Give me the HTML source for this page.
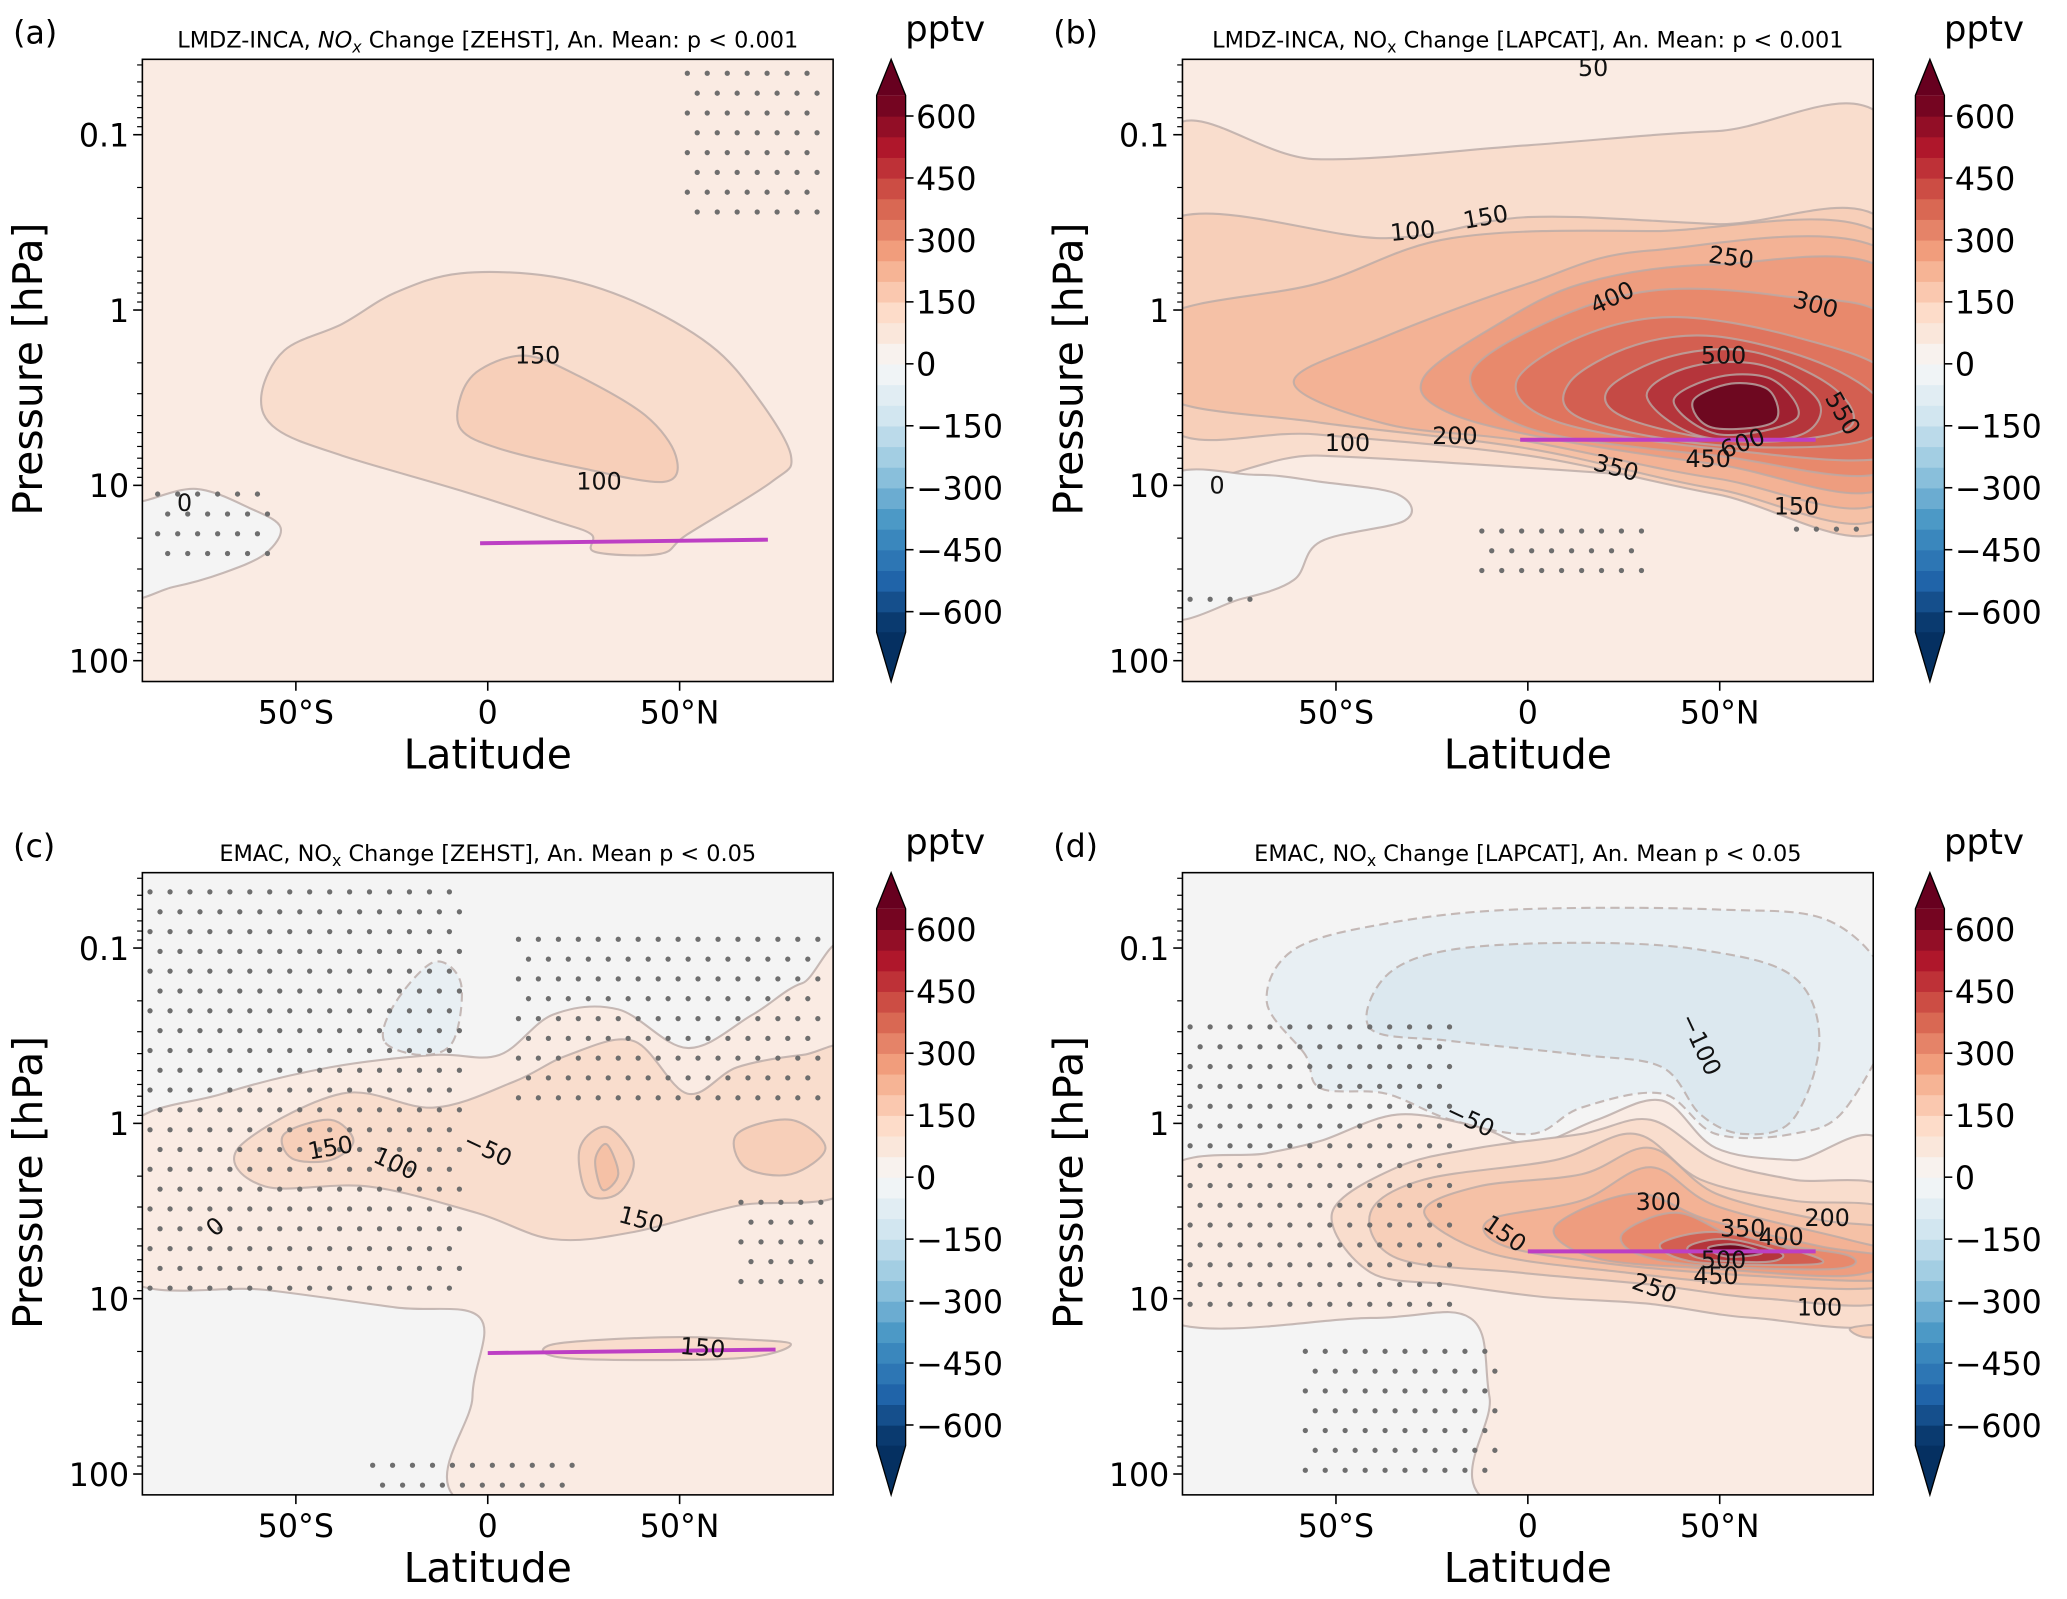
<!DOCTYPE html>
<html><head><meta charset="utf-8"><style>
html,body{margin:0;padding:0;background:#fff;}
svg{display:block;font-family:"DejaVu Sans","Liberation Sans",sans-serif;}
</style></head><body>
<svg id="fig" width="2067" height="1599" viewBox="0 0 1568 1213" preserveAspectRatio="none" xmlns="http://www.w3.org/2000/svg"></svg>
<script>
// ---------- data ----------
const yTickValues = [0.1, 1, 10, 100];
const yTickLabels = ["0.1", "1", "10", "100"];
const xTickValues = [-50, 0, 50];
const xTickLabels = ["50°S", "0", "50°N"];
const cbarTickValues = [600, 450, 300, 150, 0, -150, -300, -450, -600];
const cbarTickLabels = ["600", "450", "300", "150", "0", "\u2212150", "\u2212300", "\u2212450", "\u2212600"];
const cbarLevelMin = -650, cbarLevelMax = 650, cbarLevelStep = 50;
// contours: [level, [[lat, log10 pressure], ...]]
const contoursA = [
 [-50, [[-90,1.09],[-76,1.02],[-62,1.13],[-54,1.24],[-58,1.39],[-69,1.50],[-82,1.58],[-95,1.62],[-95,1.09]]],
 [50, [[-59,0.49],[-53,0.23],[-38,0.08],[-24,-0.10],[-7,-0.21],[17,-0.19],[38,-0.05],[58,0.20],[70,0.49],[79,0.83],[74,0.98],[52,1.28],[45,1.39],[28,1.38],[27,1.28],[17,1.20],[-7,1.03],[-38,0.83],[-55,0.68]]],
 [100, [[-7,0.49],[-2,0.34],[10,0.26],[24,0.38],[41,0.60],[49,0.83],[46,0.98],[24,0.90],[3,0.79],[-7,0.68]]]
];
const contoursB = [
 [50, [[-95,-0.98],[-55,-0.86],[0,-0.94],[49,-1.02],[95,-1.02],[95,1.09],[49,0.98],[0,0.90],[-55,0.83],[-95,0.83]]],
 [100, [[-95,-0.49],[-37,-0.41],[0,-0.53],[49,-0.49],[95,-0.45],[95,1.20],[49,1.05],[0,0.83],[-55,0.71],[-95,0.64]]],
 [150, [[-95,0.04],[-55,-0.15],[-20,-0.41],[32,-0.45],[95,-0.38],[95,1.13],[49,1.02],[0,0.79],[-55,0.64],[-95,0.49]]],
 [200, [[-61,0.41],[-37,0.15],[0,-0.15],[32,-0.34],[95,-0.30],[95,1.05],[49,0.96],[0,0.75],[-37,0.65]]],
 [250, [[-27,0.38],[-10,0.11],[14,-0.15],[49,-0.26],[95,-0.19],[95,0.98],[49,0.88],[0,0.71],[-23,0.56]]],
 [300, [[-15,0.38],[4,0.08],[32,-0.11],[66,-0.08],[95,0.08],[95,0.90],[49,0.83],[1,0.68]]],
 [350, [[-3,0.41],[14,0.15],[38,0.04],[69,0.15],[95,0.38],[95,0.83],[49,0.79],[8,0.64]]],
 [400, [[11,0.41],[28,0.20],[49,0.15],[76,0.30],[92,0.53],[87,0.75],[49,0.77],[14,0.62]]],
 [450, [[21,0.45],[38,0.26],[59,0.24],[80,0.45],[83,0.68],[55,0.75],[26,0.62]]],
 [500, [[31,0.49],[43,0.32],[62,0.32],[76,0.53],[70,0.72],[45,0.72]]],
 [550, [[38,0.52],[50,0.38],[64,0.40],[70,0.62],[50,0.71]]],
 [600, [[43,0.52],[53,0.42],[63,0.46],[64,0.64],[48,0.67]]],
 [-50, [[-95,0.98],[-71,0.94],[-54,0.98],[-34,1.05],[-32,1.20],[-54,1.32],[-61,1.54],[-75,1.65],[-95,1.73]]]
];
const contoursC = [
 [0, [[-95,0.06],[-69,-0.17],[-41,-0.32],[-14,-0.39],[3,-0.39],[17,-0.62],[34,-0.65],[52,-0.43],[69,-0.62],[82,-0.80],[95,-0.80],[95,2.2],[-3,2.2],[-4,1.56],[-2,1.11],[-24,1.05],[-58,0.95],[-95,0.87]]],
 [-50, [[-27,-0.47],[-24,-0.69],[-14,-0.92],[-7,-0.80],[-9,-0.47],[-17,-0.39]]],
 [50, [[-65,0.14],[-38,-0.17],[-14,-0.09],[7,-0.24],[21,-0.39],[38,-0.47],[52,-0.17],[65,-0.32],[82,-0.39],[95,-0.39],[95,0.36],[65,0.47],[38,0.62],[17,0.66],[-3,0.51],[-31,0.36],[-58,0.36]]],
 [50, [[17,1.26],[45,1.22],[65,1.23],[79,1.26],[65,1.34],[21,1.34]]],
 [100, [[-53,0.06],[-41,-0.02],[-35,0.10],[-41,0.21],[-51,0.20]]],
 [100, [[24,0.14],[31,0.02],[38,0.21],[34,0.40],[26,0.40]]],
 [100, [[65,0.06],[79,-0.02],[88,0.14],[79,0.29],[67,0.25]]],
 [150, [[28,0.21],[31,0.12],[34,0.29],[30,0.38]]]
];
const contoursD = [
 [-50, [[-58,-0.39],[-68,-0.69],[-61,-0.99],[-37,-1.14],[-3,-1.22],[49,-1.22],[80,-1.14],[95,-0.69],[83,-0.09],[69,0.06],[49,0.06],[35,-0.17],[14,-0.09],[1,0.06],[-20,-0.02],[-37,-0.17],[-54,-0.20]]],
 [-100, [[-41,-0.54],[-37,-0.84],[-20,-0.99],[14,-1.03],[45,-0.99],[69,-0.84],[76,-0.47],[69,-0.02],[56,0.06],[45,-0.05],[35,-0.32],[14,-0.39],[-20,-0.47]]],
 [0, [[-95,0.29],[-68,0.17],[-54,0.10],[-34,-0.05],[-13,0.02],[1,0.12],[18,-0.02],[35,-0.13],[49,0.14],[69,0.21],[95,0.21],[95,2.2],[-6,2.2],[-10,1.56],[-15,1.11],[-41,1.11],[-95,1.11]]],
 [50, [[-51,0.51],[-34,0.25],[-13,0.14],[14,0.06],[32,-0.02],[49,0.21],[69,0.32],[95,0.40],[95,1.11],[59,1.11],[32,1.03],[4,0.99],[-20,0.92],[-41,0.85]]],
 [100, [[-41,0.51],[-27,0.32],[7,0.21],[28,0.06],[45,0.32],[69,0.44],[95,0.51],[95,1.0],[62,1.0],[32,0.92],[-3,0.85],[-34,0.77]]],
 [150, [[-27,0.51],[-13,0.36],[14,0.29],[32,0.14],[49,0.40],[76,0.55],[95,0.62],[95,0.92],[59,0.92],[25,0.85],[-10,0.74]]],
 [200, [[-10,0.55],[14,0.44],[32,0.25],[49,0.47],[83,0.66],[95,0.74],[95,0.89],[59,0.87],[21,0.80],[-6,0.70]]],
 [250, [[7,0.59],[28,0.40],[47,0.55],[76,0.70],[95,0.77],[83,0.87],[49,0.83],[18,0.77]]],
 [300, [[25,0.62],[39,0.51],[56,0.66],[83,0.75],[80,0.83],[45,0.81],[28,0.74]]],
 [400, [[35,0.68],[49,0.62],[69,0.72],[76,0.80],[49,0.80],[38,0.76]]],
 [500, [[42,0.70],[52,0.66],[66,0.74],[62,0.79],[45,0.77]]],
 [600, [[47,0.71],[54,0.69],[61,0.74],[52,0.76]]],
 [100, [[84,1.17],[92,1.15],[97,1.2],[88,1.22]]]
];
// stippled (non-significant) regions: [lat0, lat1, logp0, logp1]
const stippleA = [[52,88,-1.35,-0.5],[-86,-56,1.05,1.5]];
const stippleB = [[-88,-70,1.65,1.75],[-12,30,1.26,1.55],[70,88,1.25,1.3]];
const stippleC = [[-88,-5,-1.32,1.02],[8,88,-1.05,-0.1],[66,88,0.45,0.98],[-30,22,1.95,2.08]];
const stippleD = [[-88,-18,-0.55,1.05],[-58,-8,1.3,2.08]];
// contour labels: [text, lat, logp, rotation]
const labelsA = [["150",13,0.26,0],["100",29,0.98,0],["0",-79,1.1,0]];
const labelsB = [["50",17,-1.38,0],["100",-30,-0.45,-5],["150",-11,-0.53,-10],["250",53,-0.3,8],["300",75,-0.03,15],["400",22,-0.07,-25],["500",51,0.26,0],["550",82,0.59,60],["200",-19,0.72,0],["100",-47,0.76,0],["350",23,0.9,15],["450",47,0.85,0],["600",56,0.76,-20],["0",-81,1.0,0],["150",70,1.12,0]];
const labelsC = [["150",-41,0.14,-10],["100",-24,0.23,25],["-50",0,0.15,25],["0",-71,0.59,-40],["150",40,0.55,15],["150",56,1.28,5]];
const labelsD = [["-100",45,-0.45,65],["-50",-15,-0.02,25],["300",34,0.45,0],["150",-6,0.63,35],["350",56,0.6,0],["400",66,0.65,0],["200",78,0.54,0],["250",33,0.94,20],["100",76,1.05,0],["450",49,0.87,0],["500",51,0.78,0]];
// aircraft corridor (magenta): [lat0, logp0, lat1, logp1]
const flightA = [-2,1.33,73,1.31];
const flightB = [-2,0.74,75,0.74];
const flightC = [0,1.31,75,1.29];
const flightD = [0,0.73,75,0.73];

// ---------- helpers ----------
const NS = "http://www.w3.org/2000/svg";
const fig = document.getElementById("fig");
function el(tag, attrs, parent){const e=document.createElementNS(NS,tag);for(const k in attrs)e.setAttribute(k,attrs[k]);(parent||fig).appendChild(e);return e;}
const stops = ["#053061","#2166ac","#4393c3","#92c5de","#d1e5f0","#f7f7f7","#fddbc7","#f4a582","#d6604d","#b2182b","#67001f"];
function hex(c){return [1,3,5].map(i=>parseInt(c.substr(i,2),16));}
function cmap(t){t=Math.max(0,Math.min(1,t));const s=t*(stops.length-1);const i=Math.min(stops.length-2,Math.floor(s));const f=s-i;const a=hex(stops[i]),b=hex(stops[i+1]);return "rgb("+a.map((v,k)=>Math.round(v+(b[k]-v)*f)).join(",")+")";}
const fillMap = {"0":"#faebe3","50":"#f9ddcd","100":"#f7cfb9","150":"#f5c1a6","200":"#f3b295","250":"#ee9d7f","300":"#e8896c","350":"#df745e","400":"#d35f51","450":"#c54a45","500":"#b5353b","550":"#9f2030","600":"#6e0820"};
function smoothPath(pts){
  const n=pts.length;let d="M"+pts[0][0].toFixed(1)+","+pts[0][1].toFixed(1);
  for(let i=0;i<n;i++){const p0=pts[(i-1+n)%n],p1=pts[i],p2=pts[(i+1)%n],p3=pts[(i+2)%n];
    const c1=[p1[0]+(p2[0]-p0[0])/6,p1[1]+(p2[1]-p0[1])/6],c2=[p2[0]-(p3[0]-p1[0])/6,p2[1]-(p3[1]-p1[1])/6];
    d+="C"+c1.map(v=>v.toFixed(1)).join(",")+" "+c2.map(v=>v.toFixed(1)).join(",")+" "+p2.map(v=>v.toFixed(1)).join(",");}
  return d+"Z";
}

const panels = [
 {id:"a",x0:108,y0:45,bg:"#faebe3",contours:contoursA,stipple:stippleA,labels:labelsA,flight:flightA,cbx:665,
  title:'LMDZ-INCA, <tspan font-style="italic">NO</tspan><tspan font-style="italic" font-size="12" dy="4">x</tspan><tspan dy="-4"> Change [ZEHST], An. Mean: p &lt; 0.001</tspan>'},
 {id:"b",x0:897,y0:45,bg:"#faebe3",contours:contoursB,stipple:stippleB,labels:labelsB,flight:flightB,cbx:1453,
  title:'LMDZ-INCA, NO<tspan font-size="12" dy="4">x</tspan><tspan dy="-4"> Change [LAPCAT], An. Mean: p &lt; 0.001</tspan>'},
 {id:"c",x0:108,y0:662,bg:"#f4f4f4",contours:contoursC,stipple:stippleC,labels:labelsC,flight:flightC,cbx:665,
  title:'EMAC, NO<tspan font-size="12" dy="4">x</tspan><tspan dy="-4"> Change [ZEHST], An. Mean p &lt; 0.05</tspan>'},
 {id:"d",x0:897,y0:662,bg:"#f4f4f4",contours:contoursD,stipple:stippleD,labels:labelsD,flight:flightD,cbx:1453,
  title:'EMAC, NO<tspan font-size="12" dy="4">x</tspan><tspan dy="-4"> Change [LAPCAT], An. Mean p &lt; 0.05</tspan>'}
];
const W=524,H=472,logTop=-1.43,decade=133;

panels.forEach(P=>{
  const xs=lat=>P.x0+(lat+90)/180*W;
  const ys=lp=>P.y0+(lp-logTop)*decade;
  const g=el("g",{});
  
  
  const defs=el("defs",{},g);
  const cp=el("clipPath",{id:"clip"+P.id},defs);
  el("rect",{x:P.x0,y:P.y0,width:W,height:H},cp);
  const plot=el("g",{"clip-path":"url(#clip"+P.id+")"},g);
  
  
  const bg=el("rect",{x:P.x0,y:P.y0,width:W,height:H,fill:P.bg},plot);
  
  
  P.contours.forEach(c=>{
    const pts=c[1].map(q=>[xs(q[0]),ys(q[1])]);
    const neg=c[0]<0;
    const path=el("path",{d:smoothPath(pts),fill:(neg?(c[0]<=-100?"#dce8ef":"#e8eff3"):fillMap[String(c[0])]),stroke:"#b9aaa6","stroke-opacity":"0.8","stroke-width":"1.6","stroke-dasharray":neg?"7,4":"none"},plot);
    if(neg && P.id!=="d"&&P.id!=="c"){path.setAttribute("fill","#f4f4f4");path.setAttribute("stroke-dasharray","none");}
    
    
  });
  const dots=el("g",{fill:"#6e6e6e"},plot);
  
  
  P.stipple.forEach(r=>{
    let row=0;
    for(let lp=r[2];lp<=r[3]+1e-6;lp+=0.113){
      const off=(row%2)?2.6:0;
      for(let lat=r[0]+off;lat<=r[1];lat+=5.2){el("circle",{cx:xs(lat).toFixed(1),cy:ys(lp).toFixed(1),r:2},dots);}
      row++;
    }
  });
  const f=P.flight;
  const fl=el("line",{x1:xs(f[0]),y1:ys(f[1]),x2:xs(f[2]),y2:ys(f[3]),stroke:"#bd3fc4","stroke-width":"3"},plot);
  
  
  P.labels.forEach(L=>{
    const x=xs(L[1]),y=ys(L[2]);
    const t=el("text",{x:x,y:y+6,"font-size":"18","text-anchor":"middle",fill:"#111",transform:"rotate("+L[3]+" "+x+" "+y+")"},plot);
    t.textContent=L[0].replace("-","\u2212");
    
    
  });
  const frame=el("rect",{x:P.x0,y:P.y0,width:W,height:H,fill:"none",stroke:"#000","stroke-width":"1.2"},g);
  
  
  for(let d=-2;d<=2;d++){for(let m=1;m<10;m++){const lp=d+Math.log10(m);const y=ys(lp);if(y<P.y0||y>P.y0+H)continue;
    el("line",{x1:P.x0-(m===1?7:4),x2:P.x0,y1:y,y2:y,stroke:"#000","stroke-width":m===1?"1.2":"0.9"},g);}}
  yTickValues.forEach((v,i)=>{const y=ys(Math.log10(v));
    const t=el("text",{x:P.x0-10,y:y+9,"font-size":"24","text-anchor":"end"},g);t.textContent=yTickLabels[i];
    
    });
  xTickValues.forEach((v,i)=>{const x=xs(v);
    el("line",{x1:x,x2:x,y1:P.y0+H,y2:P.y0+H+7,stroke:"#000","stroke-width":"1.2"},g);
    const t=el("text",{x:x,y:P.y0+H+32,"font-size":"24","text-anchor":"middle"},g);t.textContent=xTickLabels[i];
    
    });
  const xl=el("text",{x:P.x0+W/2,y:P.y0+H+66,"font-size":"31","text-anchor":"middle"},g);xl.textContent="Latitude";
  
  
  const cy=P.y0+235;
  const yl=el("text",{x:P.x0-76,y:cy,"font-size":"31","text-anchor":"middle",transform:"rotate(-90 "+(P.x0-76)+" "+cy+")"},g);
  yl.textContent="Pressure [hPa]";
  
  
  const tt=el("text",{x:P.x0+W/2,y:P.y0-9,"font-size":"17","text-anchor":"middle"},g);tt.innerHTML=P.title;
  
  
  const pl=el("text",{x:P.x0-98,y:P.y0-12,"font-size":"24"},g);pl.textContent="("+P.id+")";
  
  
  const cb=el("g",{},g);
  
  
  const cbs=v=>P.y0+231-v*(47/150), cw=22, cx=P.cbx;
  for(let v=cbarLevelMin;v<cbarLevelMax;v+=cbarLevelStep){
    const t=(v+cbarLevelStep/2-cbarLevelMin)/(cbarLevelMax-cbarLevelMin);
    el("rect",{x:cx,y:cbs(v+cbarLevelStep),width:cw,height:cbs(v)-cbs(v+cbarLevelStep)+0.5,fill:cmap(t)},cb);}
  const topY=cbs(cbarLevelMax),botY=cbs(cbarLevelMin);
  el("polygon",{points:cx+","+topY+" "+(cx+cw)+","+topY+" "+(cx+cw/2)+","+P.y0,fill:"#67001f"},cb);
  el("polygon",{points:cx+","+botY+" "+(cx+cw)+","+botY+" "+(cx+cw/2)+","+(P.y0+H),fill:"#053061"},cb);
  el("polygon",{points:cx+","+topY+" "+(cx+cw/2)+","+P.y0+" "+(cx+cw)+","+topY+" "+(cx+cw)+","+botY+" "+(cx+cw/2)+","+(P.y0+H)+" "+cx+","+botY,fill:"none",stroke:"#000","stroke-width":"1"},cb);
  cbarTickValues.forEach((v,i)=>{const y=cbs(v);
    el("line",{x1:cx+cw,x2:cx+cw+6,y1:y,y2:y,stroke:"#000","stroke-width":"1.2"},cb);
    const t=el("text",{x:cx+cw+8,y:y+9,"font-size":"24"},cb);t.textContent=cbarTickLabels[i];
    
    });
  const un=el("text",{x:cx+cw/2+41,y:P.y0-14,"font-size":"27","text-anchor":"middle"},cb);un.textContent="pptv";
  
  
});
</script>
</body></html>
